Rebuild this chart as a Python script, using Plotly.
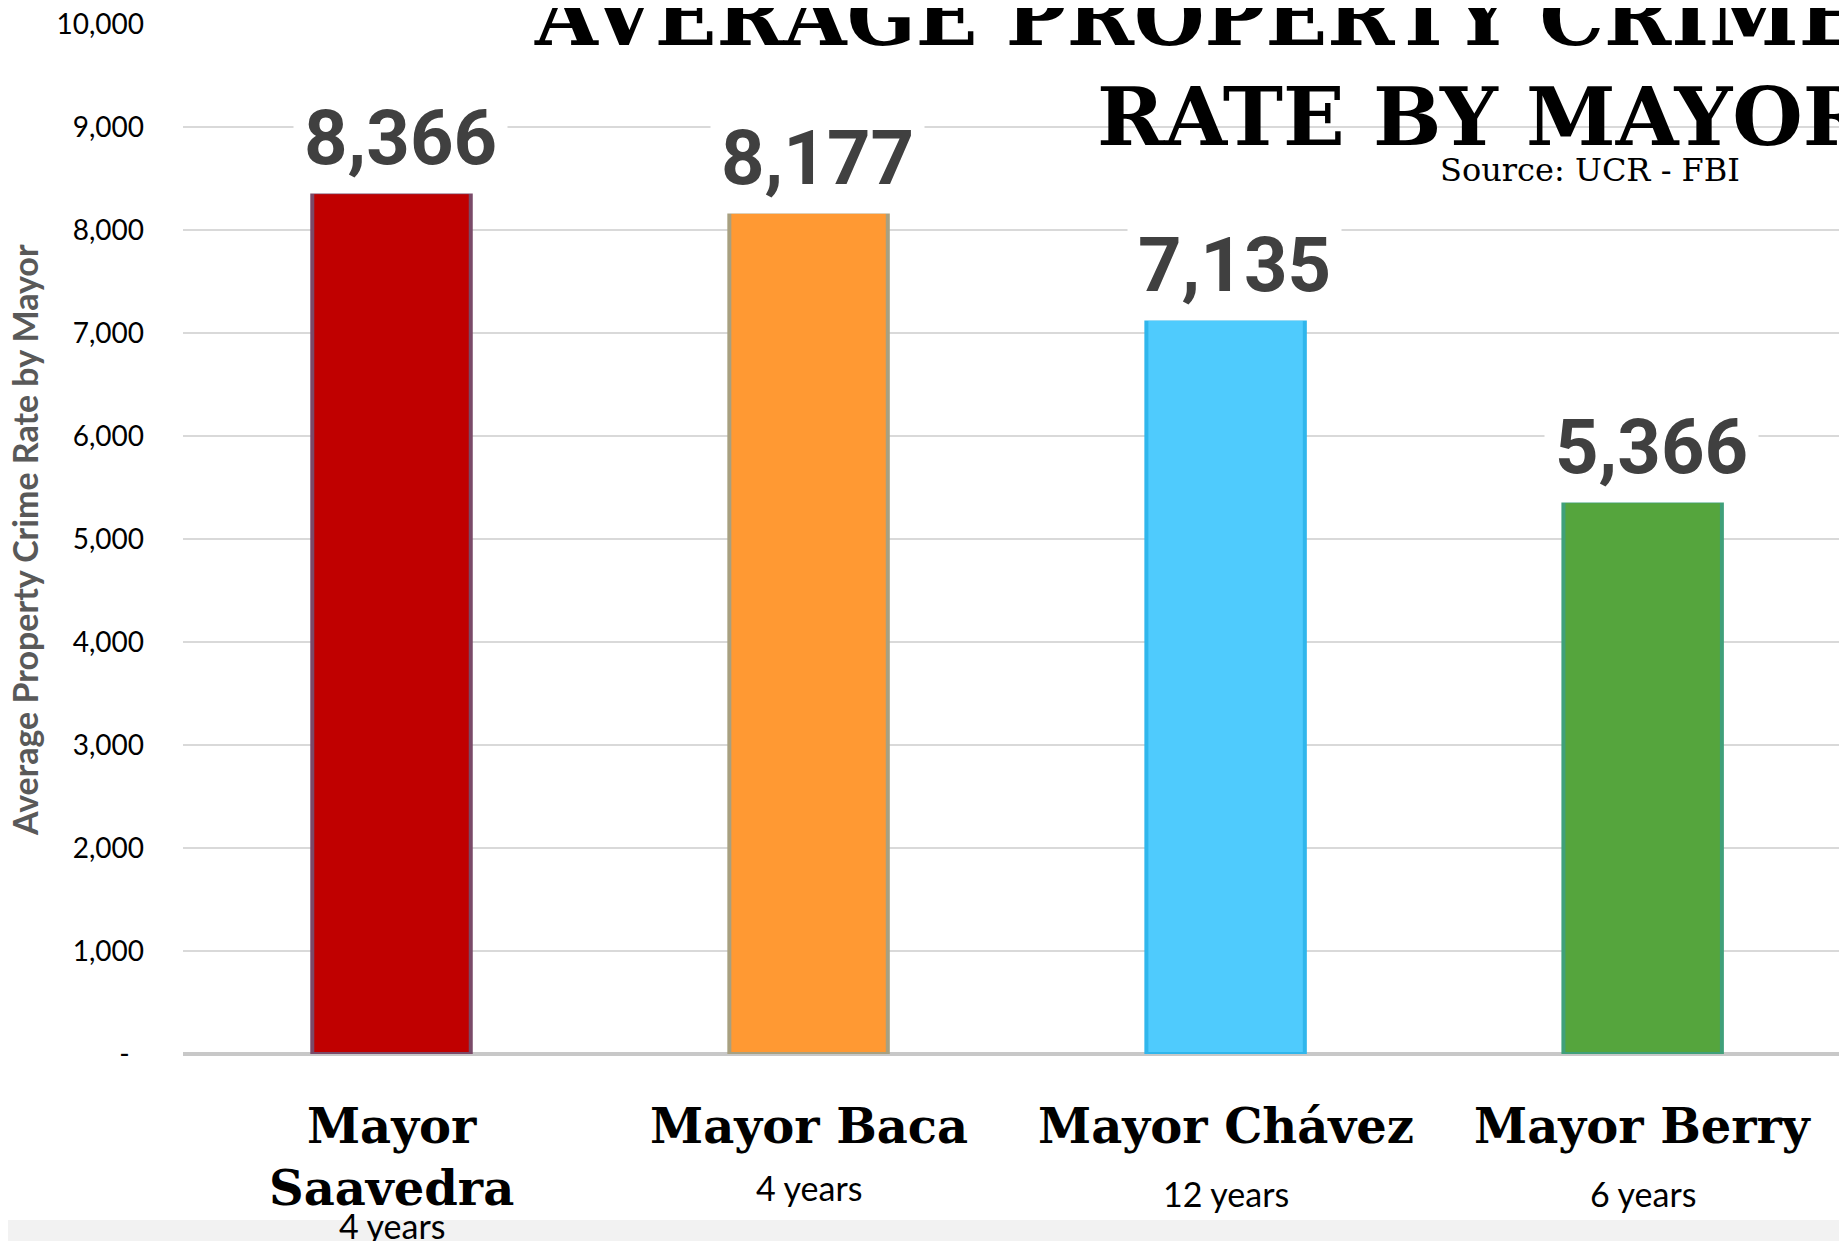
import plotly.graph_objects as go

# ---- data ----
mayors = ["Mayor Saavedra", "Mayor Baca", "Mayor Chávez", "Mayor Berry"]
mayor_labels = ["Mayor<br>Saavedra", "Mayor Baca", "Mayor Chávez", "Mayor Berry"]
terms = ["4 years", "4 years", "12 years", "6 years"]
avg_rate = [8366, 8177, 7135, 5366]
tick_vals = [0, 1000, 2000, 3000, 4000, 5000, 6000, 7000, 8000, 9000, 10000]
tick_text = ["-\u00a0\u00a0", "1,000", "2,000", "3,000", "4,000", "5,000",
             "6,000", "7,000", "8,000", "9,000", "10,000"]
bar_colors = ["#C00000", "#FF9933", "#4FCBFD", "#55A53D"]
edge_colors = ["#7A4A68", "#A8A080", "#30B6EC", "#40A07A"]

OFF = 8  # page body margin
W, H = 1847 - OFF, 1241 - OFF
L, T = 183 - OFF, 24 - OFF
PB = 1054 - OFF  # plot bottom (figure px)
R = 0
B = H - PB
PW, PH = W - L - R, PB - T

def px_x(sx):
    return (sx - OFF - L) / PW

def px_y(sy):
    return (PB - (sy - OFF)) / PH

x_idx = list(range(len(mayors)))

fig = go.Figure()
fig.add_trace(go.Bar(
    x=x_idx, y=avg_rate,
    marker=dict(color=bar_colors, line=dict(color=edge_colors, width=4)),
    hoverinfo="skip",
))

annotations = []
# data labels
for i, v in enumerate(avg_rate):
    annotations.append(dict(
        x=i, y=v, xref="x", yref="y", text=f"{v:,}", showarrow=False,
        yanchor="bottom", yshift=-2, xshift=9, bgcolor="white", borderpad=10,
        font=dict(family="Roboto", size=76, color="#404040", weight="bold"),
    ))
# category labels
for i, nm in enumerate(mayor_labels):
    annotations.append(dict(
        x=i, y=px_y(1096), xref="x", yref="paper", text=f"<b>{nm}</b>",
        showarrow=False, yanchor="top",
        font=dict(family="DejaVu Serif", size=48, color="black"),
    ))
year_y = [1225, 1187, 1193, 1193]
for i, tm in enumerate(terms):
    annotations.append(dict(
        x=i, y=px_y(year_y[i]), xref="x", yref="paper", text=tm,
        showarrow=False, yanchor="middle",
        font=dict(family="Lato", size=34, color="black"),
    ))
# title lines
annotations.append(dict(
    x=px_x(532), y=px_y(16), xref="paper", yref="paper",
    text="<b>AVERAGE PROPERTY CRIME</b>", showarrow=False,
    xanchor="left", yanchor="middle",
    font=dict(family="DejaVu Serif", size=81, color="black"),
))
annotations.append(dict(
    x=px_x(1095), y=px_y(116), xref="paper", yref="paper",
    text="<b>RATE BY MAYOR</b>", showarrow=False,
    xanchor="left", yanchor="middle",
    font=dict(family="DejaVu Serif", size=81, color="black"),
))
annotations.append(dict(
    x=px_x(1590), y=px_y(170), xref="paper", yref="paper",
    text="Source: UCR - FBI", showarrow=False,
    xanchor="center", yanchor="middle",
    font=dict(family="DejaVu Serif", size=32, color="black"),
))
# y axis title
annotations.append(dict(
    x=px_x(24), y=px_y(540), xref="paper", yref="paper",
    text="<b>Average Property Crime Rate by Mayor</b>", showarrow=False,
    textangle=-90, xanchor="center", yanchor="middle",
    font=dict(family="Lato", size=34, color="#595959"),
))

fig.update_layout(
    width=W, height=H,
    margin=dict(l=L, r=R, t=T, b=B, autoexpand=False),
    paper_bgcolor="white", plot_bgcolor="white",
    showlegend=False,
    bargap=0.62,
    annotations=annotations,
    shapes=[dict(type="rect", xref="paper", yref="paper",
                 x0=-0.2, x1=1.05, y0=px_y(1220), y1=px_y(1260),
                 fillcolor="#F2F2F2", line=dict(width=0), layer="below")],
    xaxis=dict(range=[-0.5, 3.49], showticklabels=False, showgrid=False,
               zeroline=False, showline=False, ticks=""),
    yaxis=dict(range=[0, 10000], tickvals=tick_vals, ticktext=tick_text,
               showgrid=True, gridcolor="#D9D9D9", gridwidth=2,
               zeroline=True, zerolinecolor="#C8C8C8", zerolinewidth=4,
               showline=False, ticks="", ticklabelstandoff=38,
               ticklabeloverflow="allow",
               tickfont=dict(family="Lato", size=28, color="black")),
)

fig.write_html("out.html")
